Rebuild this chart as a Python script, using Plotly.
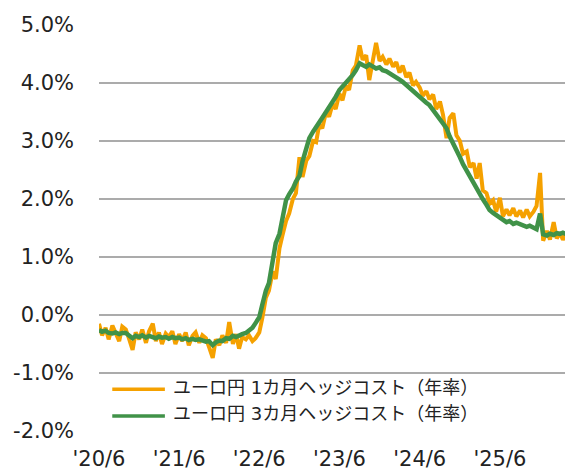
import plotly.graph_objects as go
import pandas as pd

# semi-monthly observations, 2020/6 .. 2026/4
dates = pd.date_range("2020-06-01", periods=142, freq="SMS")

# ユーロ円 1カ月ヘッジコスト（年率）, %
hedge_1m = [
    -0.15, -0.35, -0.22, -0.42, -0.18, -0.30, -0.45, -0.20, -0.25, -0.40, -0.60, -0.30,
    -0.42, -0.25, -0.48, -0.28, -0.15, -0.45, -0.30, -0.50, -0.32, -0.38, -0.28, -0.50,
    -0.33, -0.45, -0.30, -0.52, -0.36, -0.30, -0.48, -0.35, -0.40, -0.55, -0.74, -0.42,
    -0.52, -0.35, -0.48, -0.12, -0.50, -0.33, -0.58, -0.38, -0.42, -0.35, -0.45, -0.40,
    -0.30, -0.05, 0.30, 0.42, 0.75, 0.62, 1.15, 1.38, 1.62, 1.75, 2.00, 2.10,
    2.72, 2.38, 2.66, 2.74, 3.00, 2.98, 3.28, 3.22, 3.50, 3.42, 3.64, 3.55,
    3.82, 3.70, 3.95, 3.88, 4.22, 4.30, 4.65, 4.40, 4.48, 4.05, 4.42, 4.69,
    4.38, 4.45, 4.32, 4.42, 4.28, 4.36, 4.18, 4.30, 4.10, 4.18, 3.96, 4.02,
    3.92, 3.78, 3.86, 3.72, 3.80, 3.55, 3.68, 3.45, 3.05, 3.40, 3.48, 3.10,
    3.00, 2.78, 2.82, 2.55, 2.62, 2.35, 2.62, 2.15, 2.10, 1.92, 1.98, 1.78,
    2.02, 1.70, 1.82, 1.72, 1.84, 1.70, 1.80, 1.68, 1.82, 1.70, 1.78, 1.88,
    2.45, 1.28, 1.45, 1.30, 1.60, 1.32, 1.42, 1.30, 1.40, 1.33,
]

# ユーロ円 3カ月ヘッジコスト（年率）, %
hedge_3m = [
    -0.26, -0.29, -0.27, -0.31, -0.32, -0.30, -0.33, -0.31, -0.31, -0.35, -0.40, -0.36,
    -0.38, -0.35, -0.39, -0.36, -0.38, -0.40, -0.37, -0.39, -0.38, -0.41, -0.38, -0.40,
    -0.39, -0.42, -0.40, -0.43, -0.41, -0.43, -0.42, -0.44, -0.46, -0.45, -0.52, -0.47,
    -0.44, -0.45, -0.40, -0.41, -0.36, -0.38, -0.35, -0.33, -0.31, -0.27, -0.22, -0.14,
    -0.04, 0.18, 0.42, 0.55, 0.95, 1.24, 1.40, 1.72, 1.98, 2.08, 2.18, 2.30,
    2.40, 2.65, 2.88, 3.05, 3.16, 3.25, 3.33, 3.40, 3.50, 3.58, 3.65, 3.76,
    3.88, 3.94, 4.00, 4.05, 4.14, 4.22, 4.34, 4.31, 4.28, 4.32, 4.28, 4.25,
    4.27, 4.22, 4.20, 4.17, 4.14, 4.10, 4.06, 4.02, 3.96, 3.91, 3.85, 3.80,
    3.74, 3.70, 3.66, 3.62, 3.53, 3.46, 3.39, 3.30, 3.22, 3.08, 2.96, 2.84,
    2.72, 2.60, 2.48, 2.38, 2.27, 2.18, 2.10, 2.00, 1.90, 1.81, 1.76, 1.72,
    1.68, 1.64, 1.60, 1.62, 1.57, 1.59, 1.56, 1.55, 1.52, 1.54, 1.50, 1.48,
    1.75, 1.39, 1.37, 1.40, 1.38, 1.41, 1.40, 1.42, 1.39, 1.42,
]

names = ["ユーロ円 1カ月ヘッジコスト（年率）", "ユーロ円 3カ月ヘッジコスト（年率）"]
colors = ["#F5A100", "#409248"]
tick_dates = ["2020-06-01", "2021-06-01", "2022-06-01", "2023-06-01", "2024-06-01", "2025-06-01"]
tick_text = ["'20/6", "'21/6", "'22/6", "'23/6", "'24/6", "'25/6"]
y_ticks = [-2, -1, 0, 1, 2, 3, 4, 5]
y_text = ["-2.0%", "-1.0%", "0.0%", "1.0%", "2.0%", "3.0%", "4.0%", "5.0%"]

FONT = "DejaVu Sans, Noto Sans CJK JP, sans-serif"

fig = go.Figure()
fig.add_trace(go.Scatter(x=dates, y=hedge_1m, mode="lines", name=names[0],
                         line=dict(color=colors[0], width=4)))
fig.add_trace(go.Scatter(x=dates, y=hedge_3m, mode="lines", name=names[1],
                         line=dict(color=colors[1], width=4.5)))

# hand-made legend (longer line samples, like the original)
leg_y = [0.103, 0.037]
txt_y = [0.106, 0.042]
for i in range(2):
    fig.add_shape(type="line", xref="paper", yref="paper",
                  x0=0.028, x1=0.139, y0=leg_y[i], y1=leg_y[i],
                  line=dict(color=colors[i], width=3.5))
    fig.add_annotation(x=0.151, y=txt_y[i], xref="paper", yref="paper",
                       text=names[i], showarrow=False, xanchor="left", yanchor="middle",
                       font=dict(size=18, color="#222222", family=FONT))

fig.update_xaxes(type="date", range=["2020-06-01", "2026-04-30"],
                 tickvals=tick_dates, ticktext=tick_text,
                 showgrid=False, zeroline=False, showline=False,
                 automargin=False, ticklabelstandoff=13,
                 tickfont=dict(size=21, color="#222222", family=FONT))
fig.update_yaxes(range=[-2, 5], tickvals=y_ticks, ticktext=y_text,
                 showgrid=True, gridcolor="#ABABAB", gridwidth=1.5,
                 zeroline=False, showline=False,
                 automargin=False, ticklabelstandoff=24,
                 tickfont=dict(size=21, color="#222222", family=FONT))
# the page body keeps its 8px default margin, so the figure is sized to fit after it
fig.update_layout(width=565, height=462, showlegend=False,
                  margin=dict(l=91, r=0, t=17, b=39),
                  plot_bgcolor="white", paper_bgcolor="white",
                  font=dict(family=FONT))
fig.write_html("out.html")
